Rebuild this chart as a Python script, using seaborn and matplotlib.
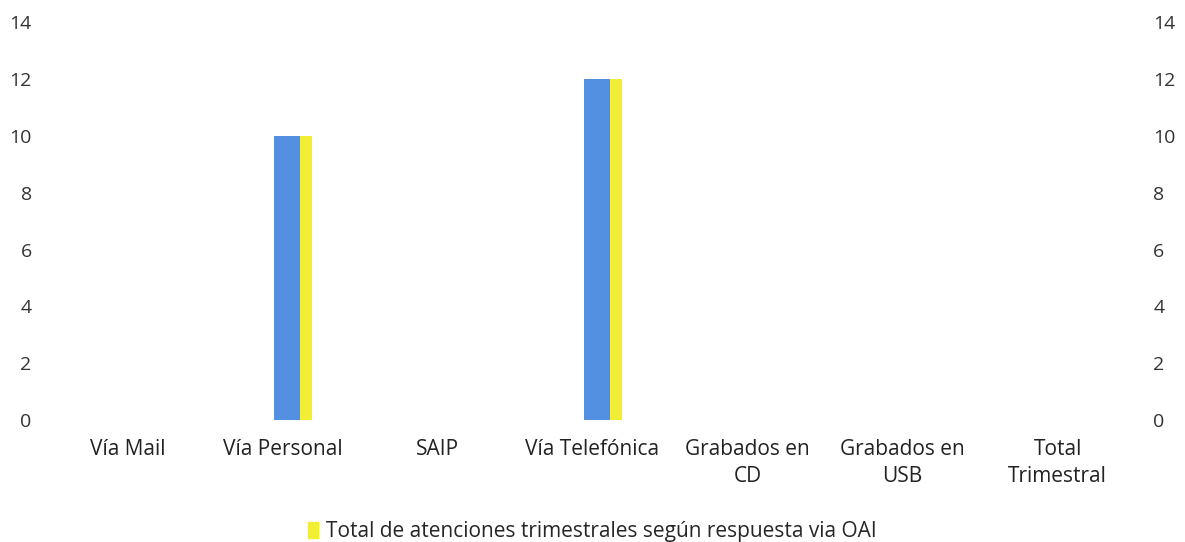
import matplotlib
matplotlib.use("Agg")
import matplotlib.pyplot as plt
import seaborn as sns
import pandas as pd

categories = ["Vía Mail", "Vía Personal", "SAIP", "Vía Telefónica",
              "Grabados en\nCD", "Grabados en\nUSB", "Total\nTrimestral"]
values = [0, 10, 0, 12, 0, 0, 0]
series_name = "Total de atenciones trimestrales según respuesta via OAI"
yticks = [0, 2, 4, 6, 8, 10, 12, 14]

sns.set_theme(style="white")
plt.rcParams['font.family'] = ['Open Sans', 'DejaVu Sans']

df = pd.DataFrame({"cat": categories, "val": values})

fig = plt.figure(figsize=(11.85, 5.42), dpi=100)
ax = fig.add_axes([0.042, 0.225, 0.916, 0.734])

yellow = "#f2ee35"
blue = "#5390e2"
sns.barplot(data=df, x="cat", y="val", color=yellow, width=0.245,
            saturation=1, ax=ax, linewidth=0)
sns.barplot(data=df, x="cat", y="val", color=blue, width=0.168,
            saturation=1, ax=ax, linewidth=0)
# 3D-like look: yellow side slightly to the right, blue face on its left part
for p in ax.containers[0]:
    p.set_x(p.get_x() + 0.07)
for p in ax.containers[1]:
    p.set_x(p.get_x() + 0.0315)

ax.set_xlim(-0.5, 6.5)
ax.set_ylim(0, 14)
ax.set_yticks(yticks)
ax.set_xlabel("")
ax.set_ylabel("")
for s in ax.spines.values():
    s.set_visible(False)
ax.tick_params(axis="y", length=0, labelsize=14, colors="#333333", pad=13,
               left=True, right=True, labelleft=True, labelright=True)
ax.tick_params(axis="x", length=0, labelsize=15, colors="#222222", pad=14)
for t in ax.get_xticklabels():
    t.set_linespacing(1.35)

handles = [plt.Rectangle((0, 0), 1, 1, color=yellow)]
fig.legend(handles, [series_name], loc="lower center", bbox_to_anchor=(0.5, -0.035),
           frameon=False, fontsize=15, handlelength=0.5, handleheight=0.8,
           handletextpad=0.4)

fig.savefig("out.png", dpi=100, facecolor="white")
